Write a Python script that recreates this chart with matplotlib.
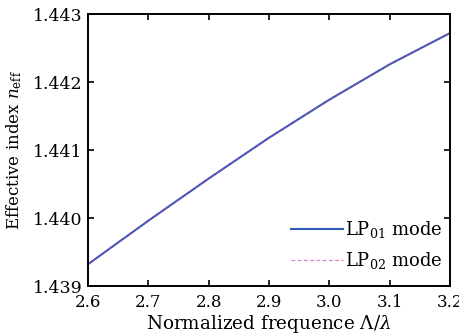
import numpy as np
import matplotlib
matplotlib.use('Agg')
import matplotlib.pyplot as plt

# Data
freq = [2.6, 2.65, 2.7, 2.75, 2.8, 2.85, 2.9, 2.95, 3.0, 3.05, 3.1, 3.15, 3.2]
n_lp01 = [1.43932, 1.43964, 1.43996, 1.44027, 1.44058, 1.44088, 1.44118,
          1.44146, 1.44174, 1.44200, 1.44226, 1.44249, 1.44272]
n_lp02 = [1.43932, 1.43964, 1.43996, 1.44027, 1.44058, 1.44088, 1.44118,
          1.44146, 1.44174, 1.44200, 1.44226, 1.44249, 1.44272]
xticks = [2.6, 2.7, 2.8, 2.9, 3.0, 3.1, 3.2]
yticks = [1.439, 1.440, 1.441, 1.442, 1.443]

plt.rcParams['font.family'] = ['DejaVu Serif']
plt.rcParams['mathtext.fontset'] = 'dejavuserif'

fig = plt.figure(figsize=(4.6, 3.36), dpi=100)
ax = fig.add_axes([0.1913, 0.1488, 0.7870, 0.8095])

ax.plot(freq, n_lp01, color='#2d5cb5', lw=1.5, label=r'LP$_{01}$ mode')
ax.plot(freq, n_lp02, color='#c040b0', lw=0.9, ls=(0, (3, 2)), alpha=0.65,
        label=r'LP$_{02}$ mode')

ax.set_xlim(2.6, 3.2)
ax.set_ylim(1.439, 1.443)
ax.set_xticks(xticks)
ax.set_xticklabels(['%.1f' % t for t in xticks])
ax.set_yticks(yticks)
ax.set_yticklabels(['%.3f' % t for t in yticks])
ax.tick_params(direction='in', top=True, right=True, length=4, width=1.2, labelsize=12.5)
ax.tick_params(axis='x', pad=6, labelsize=12)
ax.tick_params(axis='y', pad=4)
for s in ax.spines.values():
    s.set_linewidth(1.4)

ax.set_xlabel(r'Normalized frequence $\Lambda/\lambda$', fontsize=13.2, labelpad=1)
ax.set_ylabel(r'Effective index $n_{\mathrm{eff}}$', fontsize=12)
ax.yaxis.set_label_coords(-0.176, 0.5)

ax.legend(loc='lower right', frameon=False, fontsize=13, handlelength=2.9,
          handletextpad=0.1, labelspacing=0.55, borderaxespad=0.0,
          bbox_to_anchor=(1.0, 0.029))

fig.savefig('out.png', dpi=100)
